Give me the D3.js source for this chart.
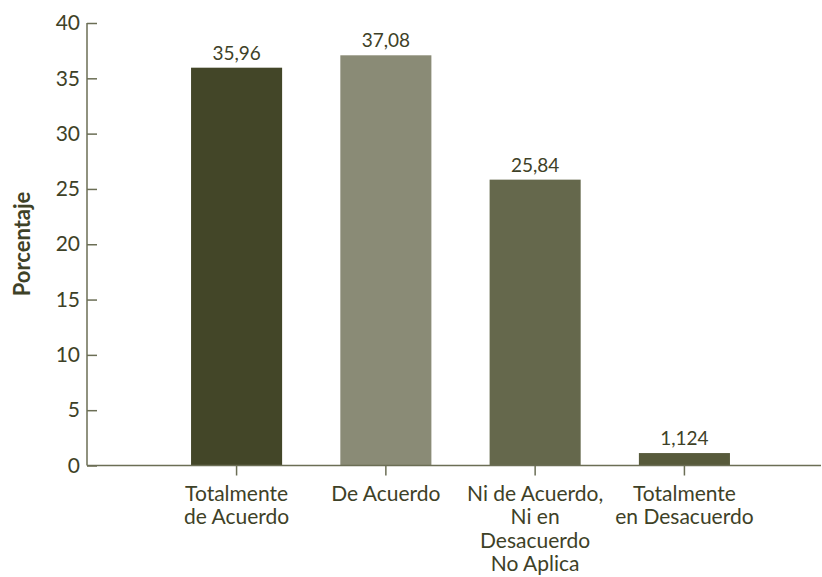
<!DOCTYPE html>
<html>
<head>
<meta charset="utf-8">
<script src="https://cdn.jsdelivr.net/npm/d3@7"></script>
<style>
  html, body { margin: 0; padding: 0; background: #fff; }
  svg { display: block; }
  text { font-family: Lato, "Open Sans", sans-serif; fill: #3e4127; }
</style>
</head>
<body>
<svg id="chart" width="822" height="577"></svg>
<script>
const categories = [
  ["Totalmente", "de Acuerdo"],
  ["De Acuerdo"],
  ["Ni de Acuerdo,", "Ni en", "Desacuerdo", "No Aplica"],
  ["Totalmente", "en Desacuerdo"]
];
const values = [35.96, 37.08, 25.84, 1.124];
const colors = ["#434628", "#8a8b76", "#65684c", "#575a3b"];
const yTicks = [0, 5, 10, 15, 20, 25, 30, 35, 40];
const yTitle = "Porcentaje";

const svg = d3.select("#chart");
const axisColor = "#6b6e55";
const x0 = 87, x1 = 834, yBottom = 465.5, yTop = 23;

const keys = categories.map((c, i) => i);
const x = d3.scaleBand().domain(keys).range([x0, x1]).paddingInner(0.39).paddingOuter(0.697);
const y = d3.scaleLinear().domain([0, 40]).range([yBottom, yTop]);

// bars
svg.selectAll("rect.bar").data(values).join("rect")
  .attr("class", "bar")
  .attr("x", (d, i) => x(i))
  .attr("width", x.bandwidth())
  .attr("y", d => y(d))
  .attr("height", d => y(0) - y(d))
  .attr("fill", (d, i) => colors[i]);

// value labels
svg.selectAll("text.val").data(values).join("text")
  .attr("class", "val")
  .attr("x", (d, i) => x(i) + x.bandwidth() / 2)
  .attr("y", d => y(d) - 8)
  .attr("text-anchor", "middle")
  .style("font-size", "19px")
  .text(d => String(d).replace(".", ","));

// y axis
const yAxis = d3.axisLeft(y).tickValues(yTicks).tickSize(-10).tickPadding(7);
const gy = svg.append("g").attr("transform", `translate(${x0},0)`).call(yAxis);
gy.select(".domain").attr("stroke", axisColor).attr("stroke-width", 1.5)
  .attr("d", `M0,${yTop}V${yBottom}`);
gy.selectAll(".tick line").attr("stroke", axisColor).attr("stroke-width", 1.5);
gy.selectAll(".tick text").style("font-size", "21px").style("font-family", "Lato, sans-serif").attr("fill", "#3e4127");

// x axis
const xAxis = d3.axisBottom(x).tickSize(10).tickFormat("");
const gx = svg.append("g").attr("transform", `translate(0,${yBottom})`).call(xAxis);
gx.select(".domain").attr("stroke", axisColor).attr("stroke-width", 1.5)
  .attr("d", `M${x0},0H821`);
gx.selectAll(".tick line").attr("stroke", axisColor).attr("stroke-width", 1.5);

// category labels
const lab = svg.selectAll("text.cat").data(categories).join("text")
  .attr("class", "cat")
  .attr("text-anchor", "middle")
  .style("font-size", "21px");
lab.selectAll("tspan").data((d, i) => d.map(s => ({ s, i }))).join("tspan")
  .attr("x", d => x(d.i) + x.bandwidth() / 2)
  .attr("y", (d, j) => 501 + j * 23.3)
  .text(d => d.s);

// y title
svg.append("text")
  .attr("transform", "translate(30,244) rotate(-90)")
  .attr("text-anchor", "middle")
  .style("font-size", "22px")
  .style("font-weight", "bold")
  .text(yTitle);
</script>
</body>
</html>
